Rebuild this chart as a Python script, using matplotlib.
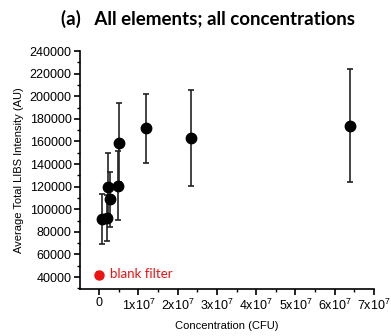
import numpy as np
import matplotlib
matplotlib.use('Agg')
import matplotlib.pyplot as plt
from matplotlib.ticker import MultipleLocator, FixedLocator, FixedFormatter

plt.rcParams['font.family'] = ['Liberation Sans', 'DejaVu Sans']
plt.rcParams['mathtext.default'] = 'regular'

# data
conc = np.array([0.07e7, 0.21e7, 0.22e7, 0.27e7, 0.48e7, 0.51e7, 1.2e7, 2.35e7, 6.39e7])
intensity = np.array([91300, 92500, 120000, 108700, 121000, 158800, 171600, 163000, 174000])
err = np.array([21800, 20500, 29500, 24000, 30800, 34900, 30300, 42300, 50000])

blank_conc = [0.0]
blank_int = [41800]
blank_err = [3000]

xticks = [0, 1e7, 2e7, 3e7, 4e7, 5e7, 6e7, 7e7]
xticklabels = ['0'] + [f'{i}x10$^7$' for i in range(1, 8)]

fig = plt.figure(figsize=(3.91, 3.36), dpi=100)
ax = fig.add_axes([0.2046, 0.1399, 0.7519, 0.7081])

ax.errorbar(conc, intensity, yerr=err, fmt='o', color='black', ms=7.5,
            ecolor='#222222', elinewidth=1.2, capsize=2.5, capthick=1.2)
ax.errorbar(blank_conc, blank_int, yerr=blank_err, fmt='o', color='#ee1111', ms=6.5,
            ecolor='#ee1111', elinewidth=1.2, capsize=2, capthick=1.2)
ax.text(0.28e7, 43000, 'blank filter', color='#ee1111', fontsize=9.5,
        family=['Lato', 'DejaVu Sans'], va='center', ha='left')

ax.set_xlim(-0.49e7, 7e7)
ax.set_ylim(29400, 240000)

ax.xaxis.set_major_locator(FixedLocator(xticks))
ax.xaxis.set_major_formatter(FixedFormatter(xticklabels))
ax.xaxis.set_minor_locator(MultipleLocator(0.5e7))
ax.yaxis.set_major_locator(MultipleLocator(20000))
ax.yaxis.set_minor_locator(MultipleLocator(10000))
ax.set_yticks(np.arange(40000, 240001, 20000))

for s in ['top', 'right']:
    ax.spines[s].set_visible(False)
for s in ['left', 'bottom']:
    ax.spines[s].set_linewidth(1.2)

ax.tick_params(which='major', direction='out', length=4, width=1.2, labelsize=9, pad=2)
ax.tick_params(which='minor', direction='out', length=2.5, width=1)

ax.set_xlabel('Concentration (CFU)', fontsize=8, labelpad=6)
ax.set_ylabel('Average Total LIBS Intensity (AU)', fontsize=8, labelpad=4)

fig.text(0.532, 0.945, '(a)   All elements; all concentrations', fontsize=13.5,
         fontweight='bold', family=['Lato', 'DejaVu Sans'], ha='center', va='center')

fig.savefig('out.png', dpi=100)
